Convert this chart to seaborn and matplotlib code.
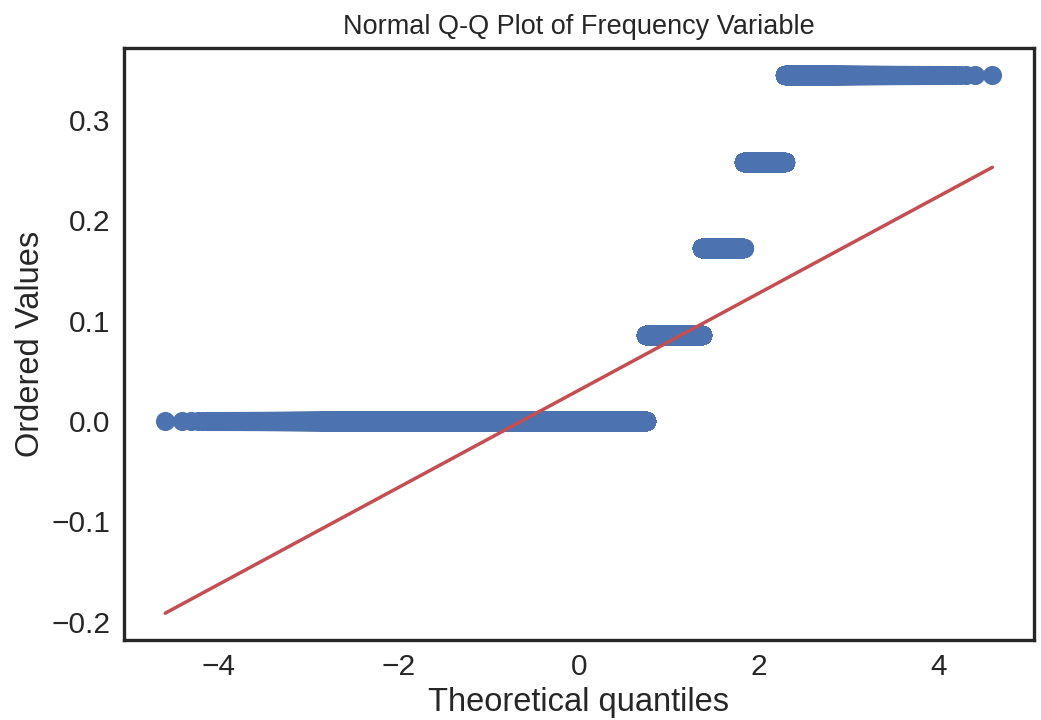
import numpy as np
import pandas as pd
import matplotlib
matplotlib.use("Agg")
import matplotlib.pyplot as plt
import seaborn as sns
from statistics import NormalDist

## Data: distinct values of the frequency variable and how many rows hold each
freq_levels = [0.0, 0.0862, 0.1724, 0.2586, 0.3448]
level_counts = [247479, 45213, 16550, 7235, 3523]

sns.set(style="white", color_codes=True)
plt.rcParams["font.family"] = ["Liberation Sans", "DejaVu Sans"]

values = np.repeat(freq_levels, level_counts)
n = len(values)

# theoretical quantiles: Filliben order statistic medians (as in scipy probplot)
p = (np.arange(1, n + 1) - 0.3175) / (n + 0.365)
p[0] = 1 - 0.5 ** (1 / n)
p[-1] = 0.5 ** (1 / n)
nd = NormalDist()
osm = np.array([nd.inv_cdf(v) for v in p])

# least squares line through the probability plot
slope, intercept = np.polyfit(osm, values, 1)
line_x = np.array([osm[0], osm[-1]])

df = pd.DataFrame({"Theoretical quantiles": osm, "Ordered Values": values})

fig, ax = plt.subplots(figsize=(10.41, 7.2), dpi=100)
sns.scatterplot(data=df, x="Theoretical quantiles", y="Ordered Values",
                color="b", s=190, linewidth=0, antialiased=False, ax=ax)
sns.lineplot(x=line_x, y=slope * line_x + intercept, color="r", linewidth=2.5, ax=ax)

ax.set_title("Normal Q-Q Plot of Frequency Variable", fontsize=19.5, pad=10)
ax.set_xlabel("Theoretical quantiles", fontsize=23.5)
ax.set_ylabel("Ordered Values", fontsize=23.5)
ax.tick_params(labelsize=21.5)
for s in ax.spines.values():
    s.set_linewidth(2.4)
    s.set_color("#262626")

plt.subplots_adjust(left=0.119, right=0.993, top=0.933, bottom=0.111)
plt.savefig("out.png", dpi=100)
plt.close()
